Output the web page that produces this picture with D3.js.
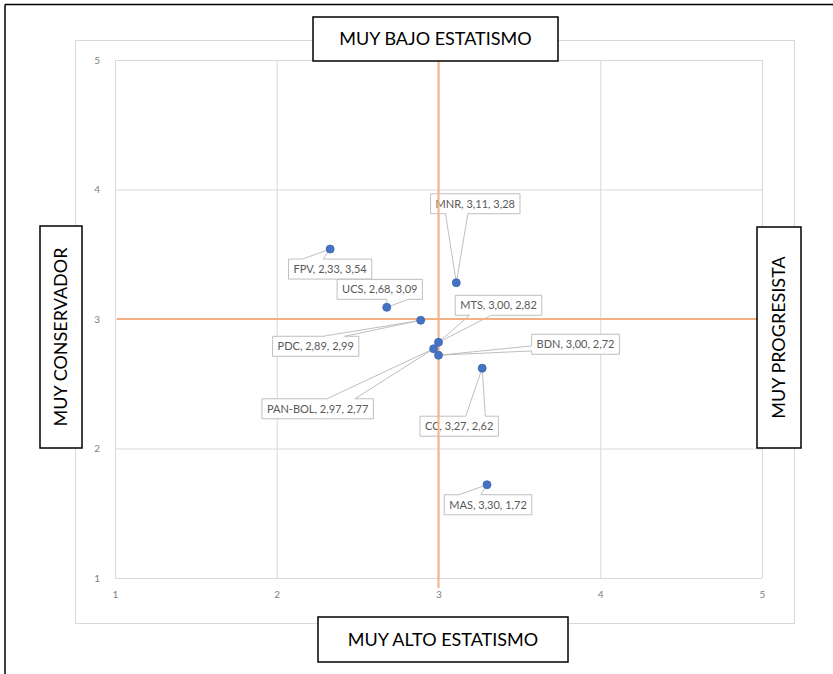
<!DOCTYPE html>
<html>
<head>
<meta charset="utf-8">
<script src="https://cdn.jsdelivr.net/npm/d3@7"></script>
<style>
  html, body { margin: 0; padding: 0; background: #fff; }
  svg { display: block; }
</style>
</head>
<body>
<script>
// ---- data ----
const parties = ["FPV", "UCS", "PDC", "MNR", "MTS", "BDN", "PAN-BOL", "CC", "MAS"];
const xValues = [2.33, 2.68, 2.89, 3.11, 3.00, 3.00, 2.97, 3.27, 3.30];
const yValues = [3.54, 3.09, 2.99, 3.28, 2.82, 2.72, 2.77, 2.62, 1.72];
const xTicks = [1, 2, 3, 4, 5];
const yTicks = [1, 2, 3, 4, 5];
const referenceX = 3;
const referenceY = 3;
const topLabel = "MUY BAJO ESTATISMO";
const bottomLabel = "MUY ALTO ESTATISMO";
const leftLabel = "MUY CONSERVADOR";
const rightLabel = "MUY PROGRESISTA";

// ---- layout (pixel offsets of each label box centre from its point) ----
const labelOffsets = [[0, 20], [-7, -18], [-105, 26], [19, -79], [60, -37], [137, -11], [-116, 60], [-23, 58], [1, 20]];

const W = 833, H = 674;
const svg = d3.select("body").append("svg").attr("width", W).attr("height", H);

// outer frame (top and left edges visible)
svg.append("line").attr("x1", 5).attr("y1", 4.5).attr("x2", W).attr("y2", 4.5).attr("stroke", "#000").attr("stroke-width", 1.5);
svg.append("line").attr("x1", 5).attr("y1", 4.5).attr("x2", 5).attr("y2", H).attr("stroke", "#000").attr("stroke-width", 1.5);

// chart area border
svg.append("rect").attr("x", 75.5).attr("y", 40.5).attr("width", 719).attr("height", 583)
  .attr("fill", "none").attr("stroke", "#d9d9d9").attr("stroke-width", 1);

const x = d3.scaleLinear().domain([1, 5]).range([115, 762]);
const y = d3.scaleLinear().domain([1, 5]).range([578, 60]);

// gridlines
const gx = svg.append("g").attr("transform", `translate(0,${y(1)})`)
  .call(d3.axisBottom(x).tickValues(xTicks).tickSize(-(y(1) - y(5))).tickFormat(""));
gx.select(".domain").remove();
gx.selectAll("line").attr("stroke", "#d9d9d9").attr("stroke-width", 1);

const gy = svg.append("g").attr("transform", `translate(${x(1)},0)`)
  .call(d3.axisLeft(y).tickValues(yTicks).tickSize(-(x(5) - x(1))).tickFormat(""));
gy.select(".domain").remove();
gy.selectAll("line").attr("stroke", "#d9d9d9").attr("stroke-width", 1);

// tick labels
const ax = svg.append("g").attr("transform", `translate(0,${y(1) + 10})`)
  .call(d3.axisBottom(x).tickValues(xTicks).tickSize(0).tickFormat(d3.format("d")));
ax.select(".domain").remove();
ax.selectAll("text").attr("fill", "#808080").attr("font-family", "Lato, sans-serif").attr("font-size", 10);

const ay = svg.append("g").attr("transform", `translate(${x(1) - 12},0)`)
  .call(d3.axisLeft(y).tickValues(yTicks).tickSize(0).tickFormat(d3.format("d")));
ay.select(".domain").remove();
ay.selectAll("text").attr("fill", "#808080").attr("font-family", "Lato, sans-serif").attr("font-size", 10);

// data
const data = parties.map((p, i) => ({ name: p, x: xValues[i], y: yValues[i], off: labelOffsets[i] }));
const fmt = v => v.toFixed(2).replace(".", ",");

// wedge rectangle callout (Excel-style)
function calloutPath(l, t, w, h, px, py) {
  const r = l + w, b = t + h, hc = l + w / 2, vc = t + h / 2;
  const dxPos = px - hc, dyPos = py - vc;
  const dq = dxPos * h / w;
  const dz = Math.abs(dyPos) - Math.abs(dq);
  const x1 = l + w * (dxPos > 0 ? 7 : 2) / 12, x2 = l + w * (dxPos > 0 ? 10 : 5) / 12;
  const y1 = t + h * (dyPos > 0 ? 7 : 2) / 12, y2 = t + h * (dyPos > 0 ? 10 : 5) / 12;
  const xl = dz > 0 ? l : (dxPos > 0 ? l : px);
  const xt = dz > 0 ? (dyPos > 0 ? x1 : px) : x1;
  const xr = dz > 0 ? r : (dxPos > 0 ? px : r);
  const xb = dz > 0 ? (dyPos > 0 ? px : x1) : x1;
  const yl = dz > 0 ? y1 : (dxPos > 0 ? y1 : py);
  const yt = dz > 0 ? (dyPos > 0 ? t : py) : t;
  const yr = dz > 0 ? y1 : (dxPos > 0 ? py : y1);
  const yb = dz > 0 ? (dyPos > 0 ? py : b) : b;
  const p = d3.path();
  p.moveTo(l, t); p.lineTo(x1, t); p.lineTo(xt, yt); p.lineTo(x2, t); p.lineTo(r, t);
  p.lineTo(r, y1); p.lineTo(xr, yr); p.lineTo(r, y2); p.lineTo(r, b);
  p.lineTo(x2, b); p.lineTo(xb, yb); p.lineTo(x1, b); p.lineTo(l, b);
  p.lineTo(l, y2); p.lineTo(xl, yl); p.lineTo(l, y1); p.closePath();
  return p.toString();
}

const labelG = svg.append("g");
data.forEach(d => {
  const px = x(d.x), py = y(d.y);
  const cx = px + d.off[0], cy = py + d.off[1];
  const g = labelG.append("g");
  const path = g.append("path");
  const txt = g.append("text")
    .attr("x", cx).attr("y", cy).attr("dy", "0.35em")
    .attr("text-anchor", "middle")
    .attr("font-family", "Lato, sans-serif").attr("font-size", 11)
    .attr("fill", "#595959")
    .text(`${d.name}, ${fmt(d.x)}, ${fmt(d.y)}`);
  const tw = txt.node().getComputedTextLength();
  const bw = tw + 10, bh = 20;
  path.attr("d", calloutPath(cx - bw / 2, cy - bh / 2, bw, bh, px, py))
    .attr("fill", "#fff").attr("stroke", "#bfbfbf").attr("stroke-width", 1);
});

// reference lines
const orange = "#f4b183";
svg.append("line").attr("x1", x(referenceX)).attr("x2", x(referenceX))
  .attr("y1", y(5)).attr("y2", y(1) + 10).attr("stroke", orange).attr("stroke-width", 2);
svg.append("line").attr("x1", x(1) + 2).attr("x2", x(5))
  .attr("y1", y(referenceY)).attr("y2", y(referenceY)).attr("stroke", orange).attr("stroke-width", 2);

// points
svg.append("g").selectAll("circle").data(data).join("circle")
  .attr("cx", d => x(d.x)).attr("cy", d => y(d.y)).attr("r", 4)
  .attr("fill", "#4472c4").attr("stroke", "#3a64b0").attr("stroke-width", 0.8);

// side boxes
function sideBox(bx, by, bw, bh, text, rotate) {
  const g = svg.append("g");
  g.append("rect").attr("x", bx).attr("y", by).attr("width", bw).attr("height", bh)
    .attr("fill", "#fff").attr("stroke", "#000").attr("stroke-width", 1.5);
  const cx = bx + bw / 2, cy = by + bh / 2;
  g.append("text")
    .attr("transform", rotate ? `translate(${cx},${cy}) rotate(-90)` : `translate(${cx},${cy})`)
    .attr("text-anchor", "middle").attr("dy", "0.35em")
    .attr("font-family", "Lato, sans-serif").attr("font-size", 18).attr("fill", "#000")
    .text(text);
}
sideBox(313, 17, 245, 44, topLabel, false);
sideBox(318, 617, 250, 45, bottomLabel, false);
sideBox(40, 226, 42, 222, leftLabel, true);
sideBox(757, 227, 44, 221, rightLabel, true);
</script>
</body>
</html>
